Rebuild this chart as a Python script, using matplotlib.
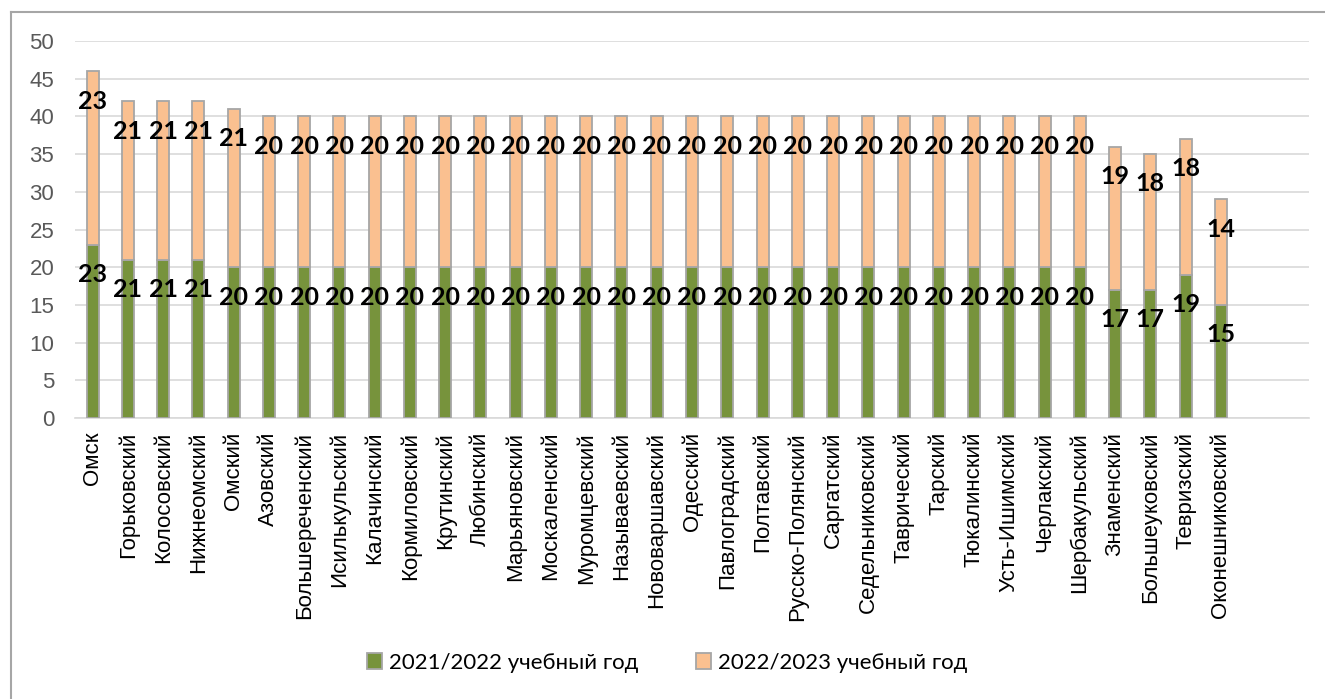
import matplotlib
matplotlib.use("Agg")
import matplotlib.pyplot as plt
from matplotlib.lines import Line2D
from matplotlib.patches import Patch

categories = ["Омск", "Горьковский", "Колосовский", "Нижнеомский", "Омский", "Азовский",
              "Большереченский", "Исилькульский", "Калачинский", "Кормиловский", "Крутинский",
              "Любинский", "Марьяновский", "Москаленский", "Муромцевский", "Называевский",
              "Нововаршавский", "Одесский", "Павлоградский", "Полтавский", "Русско-Полянский",
              "Саргатский", "Седельниковский", "Таврический", "Тарский", "Тюкалинский",
              "Усть-Ишимский", "Черлакский", "Шербакульский", "Знаменский", "Большеуковский",
              "Тевризский", "Оконешниковский"]
y2021 = [23, 21, 21, 21, 20, 20, 20, 20, 20, 20, 20, 20, 20, 20, 20, 20, 20, 20, 20, 20, 20,
         20, 20, 20, 20, 20, 20, 20, 20, 17, 17, 19, 15]
y2022 = [23, 21, 21, 21, 21, 20, 20, 20, 20, 20, 20, 20, 20, 20, 20, 20, 20, 20, 20, 20, 20,
         20, 20, 20, 20, 20, 20, 20, 20, 19, 18, 18, 14]
series_names = ["2021/2022 учебный год", "2022/2023 учебный год"]
yticks = [0, 5, 10, 15, 20, 25, 30, 35, 40, 45, 50]

GREEN = "#77933C"
ORANGE = "#FAC090"
EDGE = "#A6A6A6"
GRID = "#D9D9D9"

W, H, DPI = 1325, 699, 100
fig = plt.figure(figsize=(W / DPI, H / DPI), dpi=DPI)

ax = fig.add_axes([75 / W, 1 - 418 / H, (1309 - 75) / W, (418 - 41) / H])
x = list(range(len(categories)))
bw = 0.34
ax.bar(x, y2021, width=bw, color=GREEN, edgecolor=EDGE, linewidth=1.3, zorder=3)
ax.bar(x, y2022, width=bw, bottom=y2021, color=ORANGE, edgecolor=EDGE, linewidth=1.3, zorder=3)

ax.set_xlim(-0.5, len(categories) + 1.5)
ax.set_ylim(0, 50)
ax.set_yticks(yticks)
ax.yaxis.grid(True, color=GRID, linewidth=1.2, zorder=0)
ax.set_axisbelow(True)
for s in ["top", "right", "left"]:
    ax.spines[s].set_visible(False)
ax.spines["bottom"].set_color(GRID)
ax.spines["bottom"].set_linewidth(1.2)
ax.tick_params(axis="both", length=0)
ax.set_yticklabels([str(v) for v in yticks], fontsize=16, color="#595959",
                   family=["Liberation Sans", "DejaVu Sans"])
ax.tick_params(axis="y", pad=15)
ax.set_xticks(x)
ax.set_xticklabels(categories, rotation=90, fontsize=16, color="black",
                   family=["Liberation Sans", "DejaVu Sans"])
ax.tick_params(axis="x", pad=10)

lab_font = dict(fontsize=18, fontweight="bold", color="black", family=["Lato", "DejaVu Sans"],
                ha="center", va="center")
for i in x:
    ax.annotate(str(y2021[i]), (i, y2021[i]), xytext=(0, -21.5), textcoords="offset points",
                zorder=5, **lab_font)
    ax.annotate(str(y2022[i]), (i, y2021[i] + y2022[i]), xytext=(0, -21.5),
                textcoords="offset points", zorder=5, **lab_font)

handles = [Patch(facecolor=GREEN, edgecolor=EDGE, linewidth=1.3),
           Patch(facecolor=ORANGE, edgecolor=EDGE, linewidth=1.3)]
fig.legend(handles, series_names, loc="center", bbox_to_anchor=(667 / W, 1 - 663 / H),
           ncol=2, frameon=False, prop={"family": ["Lato", "DejaVu Sans"], "size": 16},
           handlelength=0.7, handleheight=0.7, handletextpad=0.3, columnspacing=2.6)

# chart border (left and top visible)
fig.add_artist(Line2D([11 / W, 11 / W], [0, 1 - 12 / H], transform=fig.transFigure,
                      color="#A6A6A6", linewidth=1.5))
fig.add_artist(Line2D([11 / W, 1], [1 - 12 / H, 1 - 12 / H], transform=fig.transFigure,
                      color="#A6A6A6", linewidth=1.5))

fig.savefig("out.png", dpi=DPI)
